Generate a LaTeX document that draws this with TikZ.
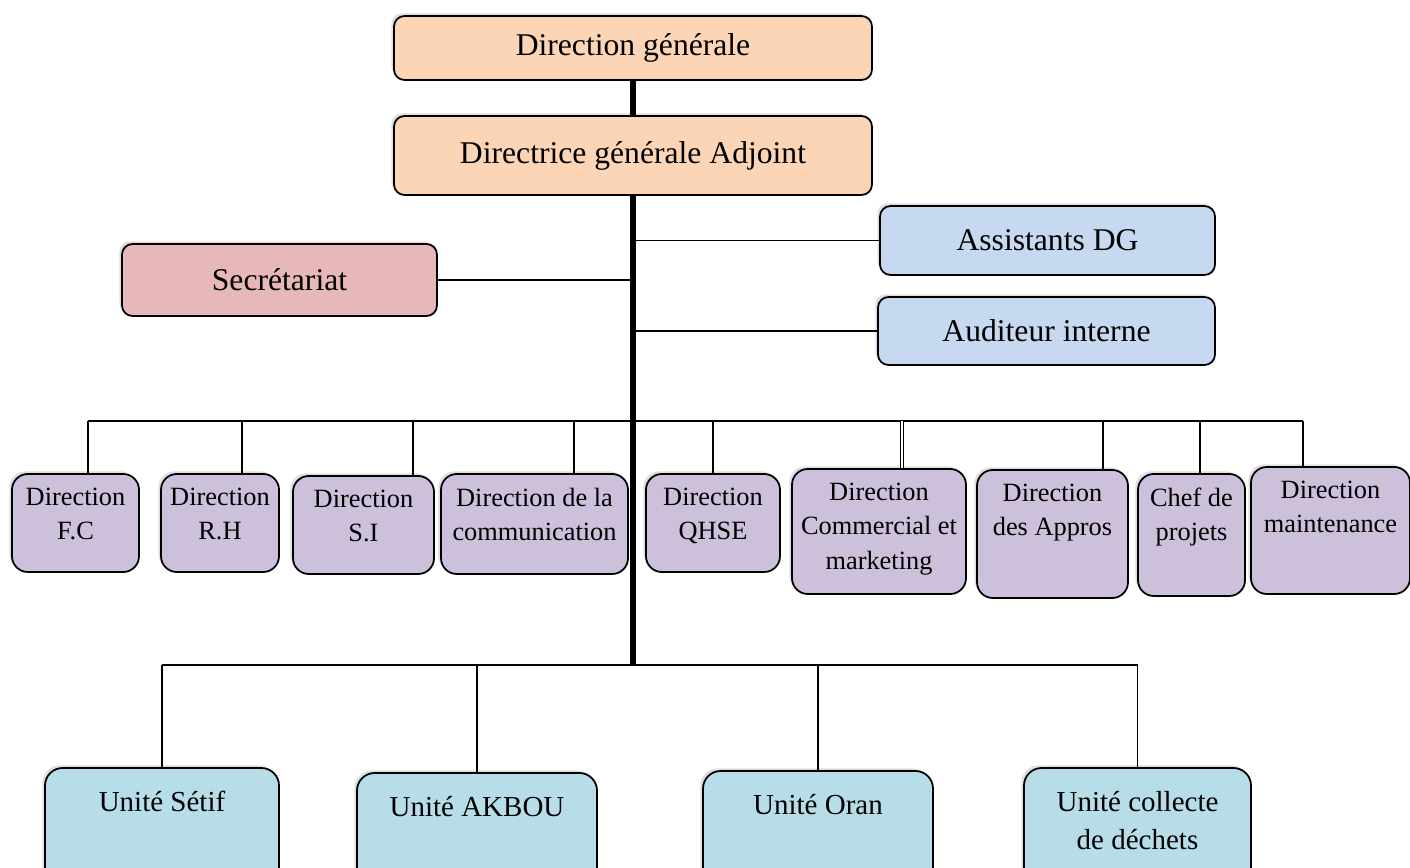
\documentclass[tikz,border=0pt]{standalone}
\usepackage{fontspec}
\setmainfont{Liberation Serif}
\usepackage{tikz}
\usetikzlibrary{positioning,shadows}
\usepackage{xcolor}

\definecolor{peach}{HTML}{FBD5B5}
\definecolor{secpink}{HTML}{E6B8B7}
\definecolor{asblue}{HTML}{C6D9F0}
\definecolor{lavend}{HTML}{CCC0DA}
\definecolor{unitblue}{HTML}{B7DDE8}

\begin{document}
\begin{tikzpicture}[
  every node/.style={font=\fontsize{15}{19.5}\selectfont},
  box/.style={draw, line width=1pt, inner sep=0pt,
              drop shadow={shadow xshift=-1.5pt, shadow yshift=1.5pt, opacity=0.25}},
  head/.style={box, rounded corners=6pt, fill=peach, minimum width=9.56cm,
               font=\fontsize{18}{22}\selectfont},
  side/.style={box, rounded corners=6pt, font=\fontsize{18}{22}\selectfont},
  dirb/.style={box, rounded corners=9pt, fill=lavend},
  unit/.style={box, rounded corners=10pt, fill=unitblue, minimum height=2.6cm},
  dtxt/.style={anchor=north, yshift=-5pt, align=center,
               font=\fontsize{15}{19.5}\selectfont},
  utxt/.style={anchor=north, yshift=-10pt, align=center,
               font=\fontsize{16.5}{22}\selectfont},
  lnk/.style={line width=1pt},
  spine/.style={line width=3.4pt}
]
\useasboundingbox (0,0) rectangle (28.2,-17.36);
\clip (0,0) rectangle (28.2,-17.36);

%% Top
\node[head, minimum height=1.28cm] (dg)  at (12.66,-0.96) {Direction générale};
\node[head, minimum height=1.58cm] (dga) at (12.66,-3.11) {Directrice générale Adjoint};

\node[side, fill=secpink, minimum width=6.3cm,  minimum height=1.44cm] (sec) at (5.59,-5.6)   {Secrétariat};
\node[side, fill=asblue,  minimum width=6.7cm,  minimum height=1.38cm] (adg) at (20.95,-4.81) {Assistants DG};
\node[side, fill=asblue,  minimum width=6.74cm, minimum height=1.36cm] (aud) at (20.93,-6.62) {Auditeur interne};

%% Directions
\node[dirb, minimum width=2.54cm, minimum height=1.96cm,
      label={[dtxt]north:{Direction\\F.C}}]                  (fc)    at (1.51,-10.46)  {};
\node[dirb, minimum width=2.36cm, minimum height=1.96cm,
      label={[dtxt]north:{Direction\\R.H}}]                  (rh)    at (4.40,-10.46)  {};
\node[dirb, minimum width=2.82cm, minimum height=1.96cm,
      label={[dtxt]north:{Direction\\S.I}}]                  (si)    at (7.27,-10.50)  {};
\node[dirb, minimum width=3.74cm, minimum height=2.0cm,
      label={[dtxt]north:{Direction de la\\communication}}]  (comm)  at (10.69,-10.48) {};
\node[dirb, minimum width=2.68cm, minimum height=1.96cm,
      label={[dtxt]north:{Direction\\QHSE}}]                 (qhse)  at (14.26,-10.46) {};
\node[dirb, minimum width=3.48cm, minimum height=2.5cm,
      label={[dtxt]north:{Direction\\Commercial et\\marketing}}] (comk) at (17.58,-10.63) {};
\node[dirb, minimum width=3.02cm, minimum height=2.56cm,
      label={[dtxt]north:{Direction\\des Appros}}]           (appro) at (21.05,-10.68) {};
\node[dirb, minimum width=2.14cm, minimum height=2.44cm,
      label={[dtxt]north:{Chef de\\projets}}]                (chef)  at (23.83,-10.70) {};
\node[dirb, minimum width=3.18cm, minimum height=2.54cm,
      label={[dtxt]north:{Direction\\maintenance}}]          (maint) at (26.61,-10.61) {};

%% Units
\node[unit, minimum width=4.68cm, label={[utxt]north:{Unité Sétif}}]            (setif) at (3.24,-16.66)  {};
\node[unit, minimum width=4.8cm,  label={[utxt]north:{Unité AKBOU}}]            (akbou) at (9.54,-16.76)  {};
\node[unit, minimum width=4.6cm,  label={[utxt]north:{Unité Oran}}]             (oran)  at (16.36,-16.72) {};
\node[unit, minimum width=4.54cm, label={[utxt]north:{Unité collecte\\de déchets}}] (coll) at (22.75,-16.66) {};

%% Links
\coordinate (bus)  at (12.64,-8.42);
\coordinate (ubus) at (12.64,-13.3);

\draw[spine] (dg.south) -- (dga.north);
\draw[spine] (dga.south) -- (dga.south |- ubus);

\draw[lnk] (sec.east) -- (sec.east -| dga.south);
\draw[lnk] (adg.west) -- (adg.west -| dga.south);
\draw[lnk] (aud.west) -- (aud.west -| dga.south);

\draw[lnk] ([xshift=0.25cm]fc.north |- bus) -- ([xshift=-0.55cm]maint.north |- bus);
\draw[lnk] ([xshift=0.25cm]fc.north)   -- ([xshift=0.25cm]fc.north |- bus);
\draw[lnk] ([xshift=0.44cm]rh.north)   -- ([xshift=0.44cm]rh.north |- bus);
\draw[lnk] ([xshift=0.99cm]si.north)   -- ([xshift=0.99cm]si.north |- bus);
\draw[lnk] ([xshift=0.79cm]comm.north) -- ([xshift=0.79cm]comm.north |- bus);
\draw[lnk] (qhse.north) -- (qhse.north |- bus);
\draw[line width=0.6pt, double, double distance=1.4pt]
  ([xshift=0.46cm]comk.north) -- ([xshift=0.46cm]comk.north |- bus);
\draw[lnk] ([xshift=1.01cm]appro.north) -- ([xshift=1.01cm]appro.north |- bus);
\draw[lnk] ([xshift=0.17cm]chef.north)  -- ([xshift=0.17cm]chef.north |- bus);
\draw[lnk] ([xshift=-0.55cm]maint.north) -- ([xshift=-0.55cm]maint.north |- bus);

\draw[lnk] (setif.north |- ubus) -- (coll.north |- ubus);
\draw[lnk] (setif.north) -- (setif.north |- ubus);
\draw[lnk] (akbou.north) -- (akbou.north |- ubus);
\draw[lnk] (oran.north)  -- (oran.north |- ubus);
\draw[lnk] (coll.north)  -- (coll.north |- ubus);
\end{tikzpicture}
\end{document}
